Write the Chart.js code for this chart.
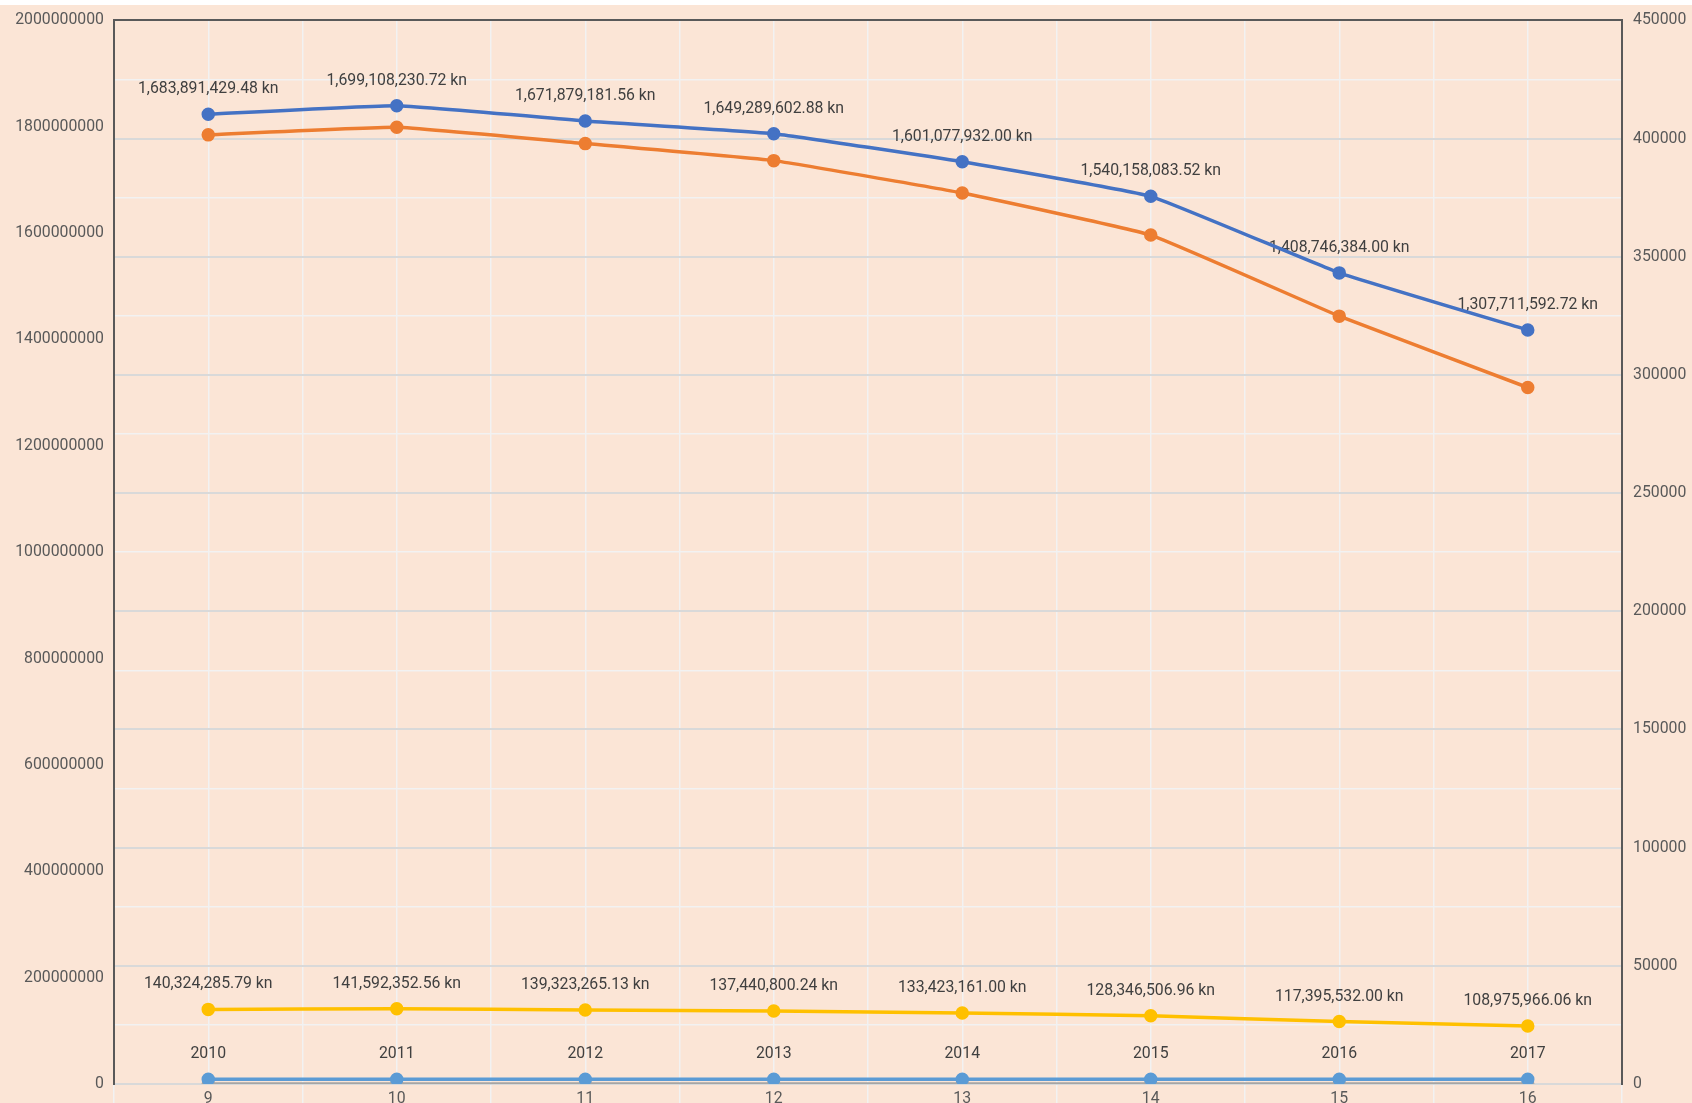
<!DOCTYPE html>
<html lang="hr">
<head>
<meta charset="UTF-8">
<title>Grafikon</title>
<script src="https://cdn.jsdelivr.net/npm/chart.js@4.4.1/dist/chart.umd.min.js"></script>
<style>
    html, body { margin: 0; padding: 0; background: #fff; overflow: hidden; }
    #grafica { display: block; background: #fbe5d6; }
    #traka { position: absolute; left: 0; top: 0; width: 100%; height: 5px; background: #fff; }
</style>
</head>
<body>
<canvas id="grafica" width="1692" height="1123"></canvas>
<div id="traka"></div>
<script>
// podaci
const kategorije = ['9', '10', '11', '12', '13', '14', '15', '16'];
const godine = [2010, 2011, 2012, 2013, 2014, 2015, 2016, 2017];
const ukupno = [1683891429.48, 1699108230.72, 1671879181.56, 1649289602.88, 1601077932.00, 1540158083.52, 1408746384.00, 1307711592.72];
const plava = [410300, 413900, 407500, 402100, 390200, 375600, 343200, 319000];
const narancasta = [401600, 404800, 397900, 390700, 377000, 359200, 324900, 294700];
const zuta = [140324285.79, 141592352.56, 139323265.13, 137440800.24, 133423161.00, 128346506.96, 117395532.00, 108975966.06];
const siva = [9, 10, 11, 12, 13, 14, 15, 16];
const lijeviTicks = [0, 2000000000, 200000000];
const desniTicks = [0, 450000, 50000];

const kn = v => v.toLocaleString('en-US', { minimumFractionDigits: 2, maximumFractionDigits: 2 }) + ' kn';

const fuente = { family: 'Roboto', size: 15.8 };
const bijela = '#f2f2f2';
const sivaLinija = '#d9d9d9';
const tamna = '#595959';

// oznake iznad tocaka (ispod linija)
const oznake = {
    id: 'oznake',
    beforeDatasetsDraw(chart) {
        const ctx = chart.ctx;
        ctx.save();
        ctx.font = '15.8px Roboto';
        ctx.fillStyle = '#404040';
        ctx.textAlign = 'center';
        ctx.textBaseline = 'middle';
        chart.data.datasets.forEach((ds, i) => {
            if (!ds.oznake) return;
            chart.getDatasetMeta(i).data.forEach((p, j) => {
                ctx.fillText(ds.oznake[j], p.x, p.y - 25);
            });
        });
        ctx.restore();
    }
};

const linija = (boja) => ({
    borderColor: boja,
    backgroundColor: boja,
    borderWidth: 3.5,
    pointRadius: 5,
    pointHoverRadius: 5,
    tension: 0.1,
    fill: false
});

new Chart(document.getElementById('grafica').getContext('2d'), {
    type: 'line',
    data: {
        labels: kategorije,
        datasets: [
            { ...linija('#4472c4'), data: plava, yAxisID: 'y1', oznake: ukupno.map(kn) },
            { ...linija('#ed7d31'), data: narancasta, yAxisID: 'y1' },
            { ...linija('#ffc000'), data: zuta, yAxisID: 'y', oznake: zuta.map(kn) },
            { ...linija('#5b9bd5'), data: godine, yAxisID: 'y1', oznake: godine.map(String) },
            { ...linija('#a5a5a5'), data: siva, yAxisID: 'y1' }
        ]
    },
    plugins: [oznake],
    options: {
        responsive: false,
        animation: false,
        devicePixelRatio: 1,
        layout: { padding: { top: 7.6, bottom: 0, left: 0, right: 0 } },
        plugins: {
            legend: { display: false },
            tooltip: { enabled: false }
        },
        scales: {
            x: {
                position: 'bottom',
                offset: true,
                grid: { offset: true, color: bijela, lineWidth: 1.5, drawTicks: true, tickLength: 30, tickColor: bijela },
                border: { color: sivaLinija, width: 2 },
                ticks: { padding: -24, color: tamna, font: fuente, maxRotation: 0 },
                afterFit(s) { s.height = 39; }
            },
            x2: {
                position: 'top',
                offset: true,
                grid: { offset: false, color: bijela, lineWidth: 1.5, drawTicks: false },
                border: { color: tamna, width: 2 },
                ticks: { display: false },
                afterFit(s) { s.height = 0; }
            },
            y: {
                position: 'left',
                min: lijeviTicks[0],
                max: lijeviTicks[1],
                grid: { display: false, drawTicks: false },
                border: { color: tamna, width: 2 },
                ticks: { stepSize: lijeviTicks[2], padding: 10, color: tamna, font: fuente, callback: v => String(v) },
                afterFit(s) { s.width = 114; }
            },
            y1: {
                position: 'right',
                min: desniTicks[0],
                max: desniTicks[1],
                grid: {
                    drawTicks: false,
                    color: c => c.tick.value % desniTicks[2] === 0 ? sivaLinija : bijela,
                    lineWidth: c => c.tick.value % desniTicks[2] === 0 ? 2 : 1.5
                },
                border: { color: tamna, width: 2 },
                ticks: { stepSize: desniTicks[2] / 2, padding: 11, color: tamna, font: fuente,
                    callback: v => v % desniTicks[2] === 0 ? String(v) : '' },
                afterFit(s) { s.width = 70; }
            }
        }
    }
});
</script>
</body>
</html>
